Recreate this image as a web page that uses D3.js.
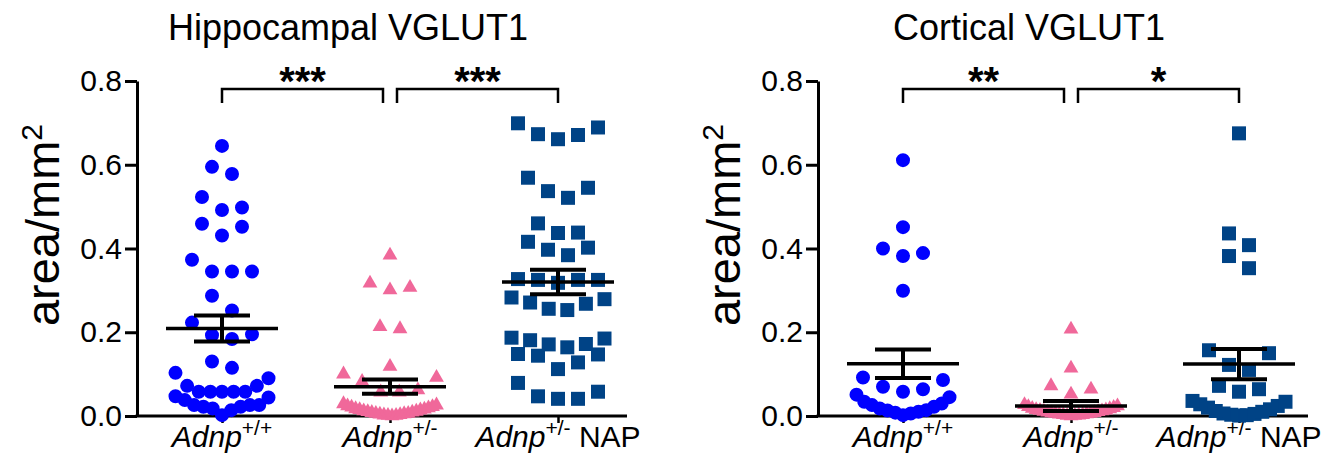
<!DOCTYPE html>
<html>
<head>
<meta charset="utf-8">
<script src="https://cdn.jsdelivr.net/npm/d3@7"></script>
<style>
  body { margin: 0; background: #fff; }
  svg { display: block; font-family: "Liberation Sans", Arial, sans-serif; }
</style>
</head>
<body>
<script>
const width = 1326;
const height = 460;

// groups on the x axis
const groups = ["wt", "het", "nap"];
const groupSup = ["+/+", "+/-", "+/-"];
const groupTail = ["", "", " NAP"];
const yTicks = [0, 0.2, 0.4, 0.6, 0.8];

// hippocampal VGLUT1, area/mm2 per image
const hippoWt = [0.645, 0.595, 0.578, 0.523, 0.498, 0.492, 0.459, 0.452, 0.431,
  0.373, 0.345, 0.345, 0.345, 0.287, 0.252, 0.223, 0.195, 0.193, 0.184, 0.130,
  0.115, 0.103, 0.090, 0.072, 0.072, 0.058, 0.058, 0.058, 0.058, 0.058, 0.047,
  0.044, 0.038, 0.026, 0.026, 0.026, 0.022, 0.022, 0.018, 0.014, 0.002];
const hippoHet = [0.384, 0.317, 0.307, 0.301, 0.213, 0.208, 0.118, 0.100, 0.092,
  0.082, 0.062, 0.057, 0.057, 0.029, 0.026, 0.024, 0.022, 0.021, 0.019, 0.017,
  0.016, 0.015, 0.014, 0.012, 0.011, 0.010, 0.009, 0.008, 0.006, 0.006, 0.005,
  0.004, 0.003, 0.002, 0.001, 0.001, 0.000];
const hippoNap = [0.699, 0.689, 0.673, 0.671, 0.661, 0.569, 0.545, 0.537, 0.521,
  0.460, 0.438, 0.437, 0.416, 0.402, 0.397, 0.384, 0.327, 0.325, 0.325, 0.325,
  0.318, 0.283, 0.279, 0.271, 0.268, 0.256, 0.253, 0.187, 0.185, 0.181, 0.172,
  0.171, 0.164, 0.148, 0.147, 0.144, 0.128, 0.112, 0.079, 0.058, 0.047, 0.041,
  0.041];
const hippoMean = [0.209, 0.070, 0.320];
const hippoSem = [0.031, 0.017, 0.029];
const hippoStars = ["***", "***"];

// cortical VGLUT1
const cortWt = [0.611, 0.451, 0.400, 0.389, 0.382, 0.299, 0.092, 0.086, 0.070,
  0.064, 0.058, 0.051, 0.045, 0.034, 0.030, 0.026, 0.022, 0.018, 0.014, 0.013,
  0.010, 0.008, 0.006, 0.002];
const cortHet = [0.207, 0.114, 0.072, 0.064, 0.052, 0.027, 0.024, 0.022, 0.020,
  0.018, 0.017, 0.015, 0.014, 0.013, 0.012, 0.011, 0.010, 0.009, 0.008, 0.007,
  0.006, 0.006, 0.005, 0.004, 0.003, 0.003, 0.002, 0.001, 0.001, 0.000];
const cortNap = [0.675, 0.436, 0.408, 0.382, 0.353, 0.157, 0.150, 0.122, 0.110,
  0.072, 0.064, 0.058, 0.036, 0.034, 0.028, 0.024, 0.020, 0.016, 0.012, 0.010,
  0.006, 0.005, 0.003, 0.002, 0.001];
const cortMean = [0.125, 0.024, 0.124];
const cortSem = [0.034, 0.012, 0.036];
const cortStars = ["**", "*"];

const colors = ["#0000ff", "#f0689a", "#004386"];
const shapes = [d3.symbolCircle, d3.symbolTriangle, d3.symbolSquare];
const shapeSize = [154, 95, 196];

const svg = d3.select("body").append("svg")
  .attr("width", width)
  .attr("height", height);

const y = d3.scaleLinear().domain([0, 0.8]).range([416, 81]);

const binPx = 21;      // values closer than this share a row
const maxSpread = 93;  // widest a row may get
const step = 20;

// prism style scatter: bin consecutive values into rows, spread centre-out
function swarm(values, cx) {
  const sorted = values.slice().sort(d3.ascending);
  const rows = [];
  let row = [];
  sorted.forEach(function(v) {
    if (row.length && y(row[0]) - y(v) > binPx) {
      rows.push(row);
      row = [];
    }
    row.push(v);
  });
  if (row.length) rows.push(row);

  const pts = [];
  rows.forEach(function(r) {
    const n = r.length;
    const s = n > 1 ? Math.min(step, maxSpread / (n - 1)) : 0;
    const slots = d3.range(n).map(k => k - (n - 1) / 2)
      .sort((a, b) => Math.abs(a) - Math.abs(b) || b - a);
    r.forEach(function(v, i) {
      pts.push({ value: v, x: cx + slots[i] * s, y: y(v) });
    });
  });
  return pts;
}

function drawPanel(x0, title, series, means, sems, stars) {
  const g = svg.append("g");
  const axisLen = 490;
  const x = d3.scalePoint().domain(groups).range([x0 + 85, x0 + 421]);

  g.append("text")
    .attr("x", x0 + 211)
    .attr("y", 40)
    .attr("text-anchor", "middle")
    .style("font-size", "36px")
    .text(title);

  // y axis
  const yAxis = g.append("g")
    .attr("transform", "translate(" + x0 + ",0)")
    .call(d3.axisLeft(y).tickValues(yTicks).tickFormat(d3.format(".1f"))
      .tickSize(12).tickSizeOuter(0).tickPadding(3))
    .attr("font-size", null)
    .attr("font-family", null);
  yAxis.selectAll("path, line").attr("stroke-width", 3);
  yAxis.selectAll("text").style("font-size", "30px").attr("fill", "#000");

  g.append("text")
    .attr("transform", "translate(" + (x0 - 78) + "," + 225 + ") rotate(-90)")
    .attr("text-anchor", "middle")
    .style("font-size", "47px")
    .text("area/mm")
    .append("tspan")
    .attr("dy", -17)
    .style("font-size", "30px")
    .text("2");

  // x axis
  g.append("line")
    .attr("x1", x0 - 1.5).attr("x2", x0 + axisLen)
    .attr("y1", y(0)).attr("y2", y(0))
    .attr("stroke", "#000").attr("stroke-width", 3);
  const xAxis = g.append("g")
    .attr("transform", "translate(0," + y(0) + ")")
    .call(d3.axisBottom(x).tickSize(7).tickFormat(""));
  xAxis.select(".domain").remove();
  xAxis.selectAll("line").attr("stroke-width", 2.5);

  const labels = g.selectAll("text.xlab")
    .data(groups)
    .enter()
    .append("text")
    .attr("class", "xlab")
    .attr("x", d => x(d))
    .attr("y", 447)
    .attr("text-anchor", "middle")
    .style("font-size", "30px");
  labels.append("tspan").style("font-style", "italic").text("Adnp");
  labels.append("tspan").attr("dy", -12).style("font-size", "21px")
    .text((d, i) => groupSup[i]);
  labels.append("tspan").attr("dy", 12)
    .text((d, i) => groupTail[i]);

  // points
  series.forEach(function(values, i) {
    const pts = swarm(values, x(groups[i]));
    g.append("g").selectAll("path")
      .data(pts)
      .enter()
      .append("path")
      .attr("transform", d => "translate(" + d.x + "," + d.y + ")")
      .attr("d", d3.symbol().type(shapes[i]).size(shapeSize[i]))
      .attr("fill", colors[i]);
  });

  // mean +- sem
  groups.forEach(function(k, i) {
    const cx = x(k);
    const bars = g.append("g").attr("stroke", "#000");
    bars.append("line")
      .attr("x1", cx - 56).attr("x2", cx + 56)
      .attr("y1", y(means[i])).attr("y2", y(means[i]))
      .attr("stroke-width", 3.5);
    bars.append("line")
      .attr("x1", cx).attr("x2", cx)
      .attr("y1", y(means[i] - sems[i])).attr("y2", y(means[i] + sems[i]))
      .attr("stroke-width", 4);
    [means[i] - sems[i], means[i] + sems[i]].forEach(function(v) {
      bars.append("line")
        .attr("x1", cx - 28).attr("x2", cx + 28)
        .attr("y1", y(v)).attr("y2", y(v))
        .attr("stroke-width", 4);
    });
  });

  // significance brackets
  const pairs = [[x(groups[0]), x(groups[1]) - 7], [x(groups[1]) + 7, x(groups[2])]];
  pairs.forEach(function(p, i) {
    g.append("path")
      .attr("d", "M" + p[0] + ",103V89H" + p[1] + "V103")
      .attr("fill", "none")
      .attr("stroke", "#000")
      .attr("stroke-width", 2.5);
    g.append("text")
      .attr("x", (p[0] + p[1]) / 2)
      .attr("y", 95)
      .attr("text-anchor", "middle")
      .style("font-size", "40px")
      .style("font-weight", "bold")
      .text(stars[i]);
  });
}

drawPanel(137, "Hippocampal VGLUT1", [hippoWt, hippoHet, hippoNap], hippoMean, hippoSem, hippoStars);
drawPanel(818, "Cortical VGLUT1", [cortWt, cortHet, cortNap], cortMean, cortSem, cortStars);
</script>
</body>
</html>
